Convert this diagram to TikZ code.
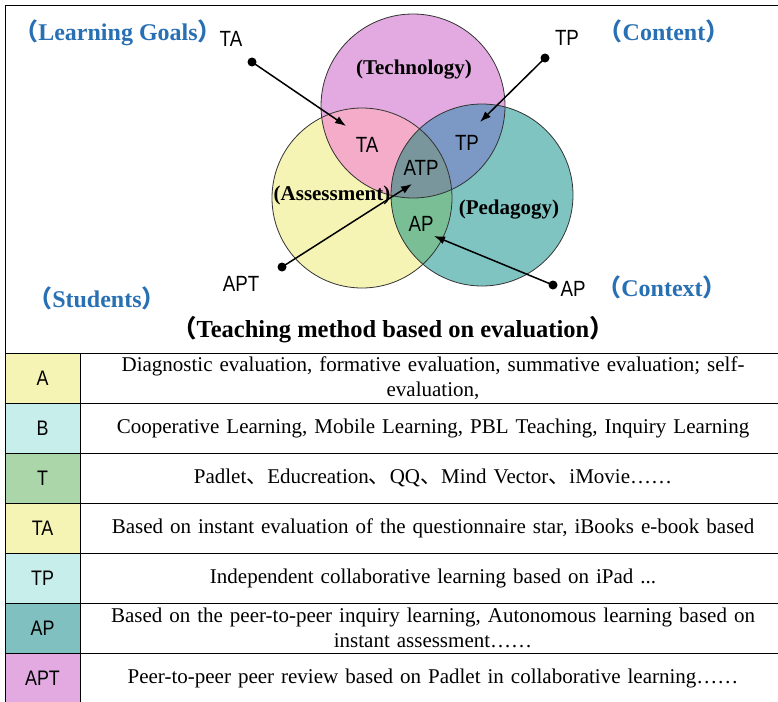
\documentclass[tikz,border=0pt]{standalone}
\usepackage{fontspec}
\setmainfont{Liberation Serif}
\newfontfamily\cjk{Noto Sans CJK SC}
\newfontfamily\tagfont[FakeStretch=0.85]{Liberation Sans}
\usetikzlibrary{arrows.meta, positioning}

\definecolor{techcol}{RGB}{226,170,224}
\definecolor{assesscol}{RGB}{246,244,180}
\definecolor{pedacol}{RGB}{128,196,194}
\definecolor{tacol}{RGB}{244,172,200}
\definecolor{tpcol}{RGB}{124,152,196}
\definecolor{apcol}{RGB}{122,190,150}
\definecolor{atpcol}{RGB}{120,150,156}
\definecolor{goalblue}{RGB}{40,112,180}
\definecolor{cyancol}{RGB}{200,238,236}
\definecolor{greencol}{RGB}{170,214,170}
\definecolor{tealcol}{RGB}{128,192,192}

% full-width brackets and the enumeration comma
\newcommand{\lbr}{{\cjk （}}
\newcommand{\rbr}{{\cjk ）}}
\newcommand{\dun}{{\cjk 、}}

\tikzset{
    corner/.style={font=\bfseries\fontsize{24}{28}\selectfont, text=goalblue},
    setname/.style={font=\bfseries\fontsize{21}{24}\selectfont},
    tag/.style={font=\tagfont\fontsize{22}{26}\selectfont},
    pointer/.style={-{Latex[length=11pt, width=8pt]}, line width=1.5pt},
    dot/.style={circle, fill=black, inner sep=0pt, minimum size=9pt},
    ring/.style={line width=0.8pt, draw=black!80},
    keycell/.style={rectangle, draw, line width=1pt, outer sep=0pt, minimum width=75pt, minimum height=50pt, font=\tagfont\fontsize{21}{24}\selectfont},
    desccell/.style={rectangle, draw, line width=1pt, outer sep=0pt, minimum width=706pt, minimum height=50pt, text width=696pt, align=center, font=\fontsize{21}{25}\selectfont},
}

\begin{document}
\begin{tikzpicture}[x=1pt, y=-1pt]
    \useasboundingbox (0,0) rectangle (778,701);

    % three circles
    \coordinate (tech) at (413,106);
    \coordinate (assess) at (362,198);
    \coordinate (peda) at (482,195);

    \fill[techcol] (tech) circle (92pt);
    \fill[assesscol] (assess) circle (90pt);
    \fill[pedacol] (peda) circle (91pt);
    \begin{scope}
        \clip (tech) circle (92pt);
        \fill[tacol] (assess) circle (90pt);
        \fill[tpcol] (peda) circle (91pt);
    \end{scope}
    \begin{scope}
        \clip (assess) circle (90pt);
        \fill[apcol] (peda) circle (91pt);
        \clip (tech) circle (92pt);
        \fill[atpcol] (peda) circle (91pt);
    \end{scope}
    \draw[ring] (tech) circle (92pt);
    \draw[ring] (assess) circle (90pt);
    \draw[ring] (peda) circle (91pt);

    \node (technology) [setname] at (414,70) {(Technology)};
    \node (assessment) [setname] at (332,195) {(Assessment)};
    \node (pedagogy) [setname] at (509,210) {(Pedagogy)};
    \node (ta) [tag] at (367,145) {TA};
    \node (tp) [tag] at (467,143) {TP};
    \node (atp) [tag] at (421,168) {ATP};
    \node (ap) [tag] at (421,224) {AP};

    % pointers from outside
    \node (taout) [tag] at (231,39) {TA};
    \node (tpout) [tag] at (567,38) {TP};
    \node (aptout) [tag] at (241,284) {APT};
    \node (apout) [tag] at (573,289) {AP};
    \node (tadot) [dot] at (252,62) {};
    \node (tpdot) [dot] at (545,58) {};
    \node (aptdot) [dot] at (282,267) {};
    \node (apdot) [dot] at (553,285) {};
    \coordinate (tatip) at (346,126);
    \coordinate (tptip) at (480,122);
    \coordinate (apttip) at (412,184);
    \coordinate (aptip) at (434,236);
    \draw[pointer] (tadot.center) -- (tatip);
    \draw[pointer] (tpdot.center) -- (tptip);
    \draw[pointer] (aptdot.center) -- (apttip);
    \draw[pointer] (apdot.center) -- (aptip);

    \node (goals) [corner] at (118,33) {\lbr Learning Goals\rbr};
    \node (content) [corner] at (664,31) {\lbr Content\rbr};
    \node (students) [corner] at (97,298) {\lbr Students\rbr};
    \node (context) [corner] at (662,287) {\lbr Context\rbr};
    \node (method) [font=\bfseries\fontsize{24.5}{28}\selectfont] at (393,330) {\lbr Teaching method based on evaluation\rbr};

    \draw[line width=1pt] (5,701) -- (5,6) -- (778,6);

    % table
    \node (rowA) [keycell, fill=assesscol] at (42.5,378) {A};
    \node (descA) [desccell, right=0pt of rowA] {Diagnostic evaluation, formative evaluation, summative evaluation; self-\\evaluation,};
    \node (rowB) [keycell, fill=cyancol, below=0pt of rowA] {B};
    \node (descB) [desccell, right=0pt of rowB] {Cooperative Learning, Mobile Learning, PBL Teaching, Inquiry Learning};
    \node (rowT) [keycell, fill=greencol, below=0pt of rowB] {T};
    \node (descT) [desccell, right=0pt of rowT] {Padlet\dun Educreation\dun QQ\dun Mind Vector\dun iMovie……};
    \node (rowTA) [keycell, fill=assesscol, below=0pt of rowT] {TA};
    \node (descTA) [desccell, right=0pt of rowTA] {Based on instant evaluation of the questionnaire star, iBooks e-book based};
    \node (rowTP) [keycell, fill=cyancol, below=0pt of rowTA] {TP};
    \node (descTP) [desccell, right=0pt of rowTP] {Independent collaborative learning based on iPad ...};
    \node (rowAP) [keycell, fill=tealcol, below=0pt of rowTP] {AP};
    \node (descAP) [desccell, right=0pt of rowAP] {Based on the peer-to-peer inquiry learning, Autonomous learning based on\\instant assessment……};
    \node (rowAPT) [keycell, fill=techcol, below=0pt of rowAP] {APT};
    \node (descAPT) [desccell, right=0pt of rowAPT] {Peer-to-peer peer review based on Padlet in collaborative learning……};
\end{tikzpicture}
\end{document}
